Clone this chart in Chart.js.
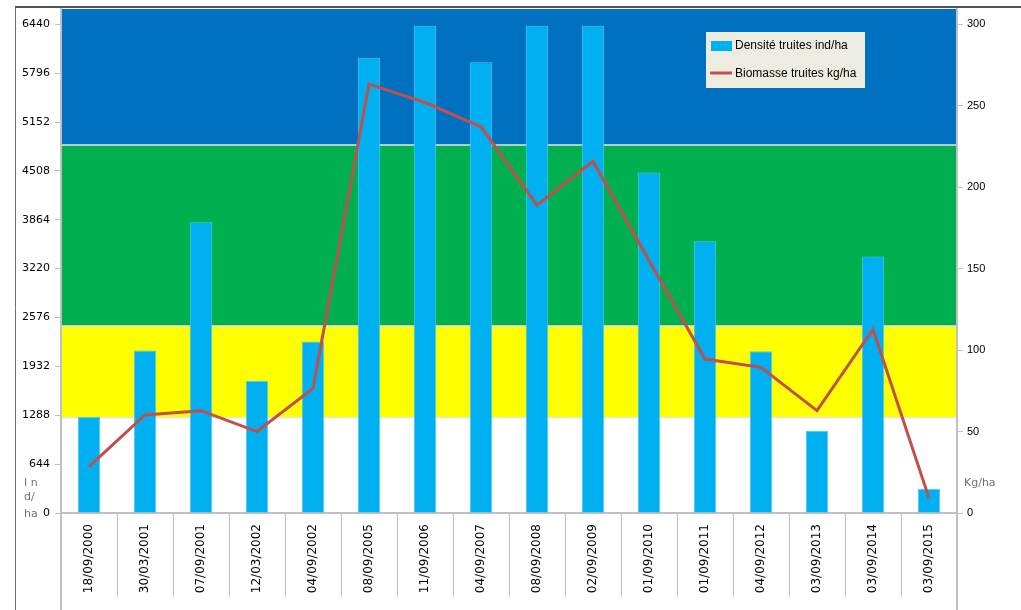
<!DOCTYPE html>
<html><head><meta charset="utf-8">
<script src="https://cdn.jsdelivr.net/npm/chart.js@4"></script>
<style>html,body{margin:0;padding:0;background:#fff;overflow:hidden} canvas{display:block}</style>
</head><body>
<canvas id="c" width="1021" height="610"></canvas>
<script>
const categories = ['18/09/2000','30/03/2001','07/09/2001','12/03/2002','04/09/2002','08/09/2005','11/09/2006','04/09/2007','08/09/2008','02/09/2009','01/09/2010','01/09/2011','04/09/2012','03/09/2013','03/09/2014','03/09/2015'];
const densite = [1265,2140,3830,1740,2260,6000,6420,5940,6420,6420,4485,3580,2130,1085,3380,320];
const biomasse = [28.5,60.2,62.8,50,76.5,263.3,252,237.1,189,215.9,155,94.5,89.4,62.8,112.8,9.2];
const leftTicks = [0,644,1288,1932,2576,3220,3864,4508,5152,5796,6440];
const rightTicks = [0,50,100,150,200,250,300];
const bandLimits = [0,1256,2465,4850,6641];
const bandColors = ['#FFFFFF','#FFFF00','#00B050','#0070C0'];
const seriesNames = ['Densité truites ind/ha','Biomasse truites kg/ha'];

const bandsPlugin = {
  id:'bands',
  beforeDraw(chart){
    const {ctx, chartArea:a, scales} = chart; const y = scales.y;
    ctx.save();
    for(let i=0;i<bandColors.length;i++){
      const y0 = y.getPixelForValue(bandLimits[i]);
      const y1 = Math.max(a.top, y.getPixelForValue(bandLimits[i+1]));
      ctx.fillStyle = bandColors[i];
      ctx.fillRect(a.left, y1, a.right-a.left, y0-y1);
    }
    ctx.strokeStyle = '#e6e6e6'; ctx.lineWidth = 1.5;
    for(let i=1;i<bandColors.length;i++){
      const yy = y.getPixelForValue(bandLimits[i]);
      ctx.beginPath(); ctx.moveTo(a.left, yy); ctx.lineTo(a.right, yy); ctx.stroke();
    }
    ctx.restore();
  },
  afterDraw(chart){
    const {ctx, chartArea:a} = chart;
    ctx.save();
    ctx.strokeStyle = '#1a1a1a'; ctx.lineWidth = 1.5;
    ctx.beginPath(); ctx.moveTo(15, 7); ctx.lineTo(1021, 7); ctx.stroke();
    ctx.strokeStyle = '#6e6e6e'; ctx.lineWidth = 1;
    ctx.beginPath(); ctx.moveTo(15.5, 7); ctx.lineTo(15.5, 610); ctx.stroke();
    ctx.strokeStyle = '#c0c0c0'; ctx.lineWidth = 2;
    ctx.beginPath(); ctx.moveTo(a.left, a.bottom); ctx.lineTo(a.left, 610);
    ctx.moveTo(a.right, a.bottom); ctx.lineTo(a.right, 610); ctx.stroke();
    ctx.fillStyle = '#707070'; ctx.font = '11px "DejaVu Sans"'; ctx.textBaseline='middle'; ctx.textAlign='left';
    ctx.fillText('I n', 24, 483); ctx.fillText('d/', 24, 497); ctx.fillText('ha', 24, 514);
    ctx.fillText('Kg/ha', 964, 483);
    ctx.fillStyle = '#EEECE1'; ctx.fillRect(706, 32, 159, 56);
    const ds = chart.data.datasets;
    ctx.fillStyle = ds[0].backgroundColor; ctx.fillRect(711, 41, 21, 10);
    ctx.strokeStyle = ds[1].borderColor; ctx.lineWidth = 3;
    ctx.beginPath(); ctx.moveTo(710, 73); ctx.lineTo(732, 73); ctx.stroke();
    ctx.fillStyle = '#000'; ctx.font = '12px "Liberation Sans"'; ctx.textBaseline='middle';
    ctx.fillText(ds[0].label, 735, 46); ctx.fillText(ds[1].label, 735, 74);
    ctx.restore();
  }
};

function noPad(s){ s.paddingTop = 0; s.paddingBottom = 0; s.paddingLeft = 0; s.paddingRight = 0; }

new Chart(document.getElementById('c'), {
  data: {
    labels: categories,
    datasets: [
      {type:'bar', label: seriesNames[0], data: densite, yAxisID:'y', backgroundColor:'#00B0F0', borderColor:'#4cc8f2', borderWidth:1, barPercentage:0.4, categoryPercentage:1, order:1},
      {type:'line', label: seriesNames[1], data: biomasse, yAxisID:'y1', borderColor:'#C0504D', borderWidth:3, pointRadius:0, tension:0, fill:false, order:0}
    ]
  },
  options: {
    responsive:false, animation:false,
    layout:{padding:{top:9,left:0,right:0,bottom:0}},
    plugins:{legend:{display:false}, tooltip:{enabled:false}},
    scales:{
      x:{
        offset:true,
        grid:{display:true, drawOnChartArea:false, offset:true, tickLength:84, color:'#c0c0c0', lineWidth:1},
        border:{display:true, color:'#c0c0c0', width:2},
        ticks:{autoSkip:false, minRotation:90, maxRotation:90, padding:-73, color:'#000', font:{family:'DejaVu Sans', size:12}},
        afterFit(s){ s.height = 97; noPad(s); }
      },
      y:{
        position:'left', min:0, max:6641,
        grid:{drawOnChartArea:false, tickLength:6, color:'#c0c0c0'},
        border:{display:true, color:'#c0c0c0', width:2},
        ticks:{padding:5, color:'#000', font:{family:'DejaVu Sans', size:11}, callback:(v)=>String(v)},
        afterBuildTicks(s){ s.ticks = leftTicks.map(v=>({value:v})); },
        afterFit(s){ s.width = 61; noPad(s); }
      },
      y1:{
        position:'right', min:0, max:309.4,
        grid:{drawOnChartArea:false, tickLength:6, color:'#c0c0c0'},
        border:{display:true, color:'#c0c0c0', width:2},
        ticks:{padding:4, color:'#000', font:{family:'Liberation Sans', size:11}, callback:(v)=>String(v)},
        afterBuildTicks(s){ s.ticks = rightTicks.map(v=>({value:v})); },
        afterFit(s){ s.width = 64; noPad(s); }
      }
    }
  },
  plugins:[bandsPlugin]
});
</script>
</body></html>
